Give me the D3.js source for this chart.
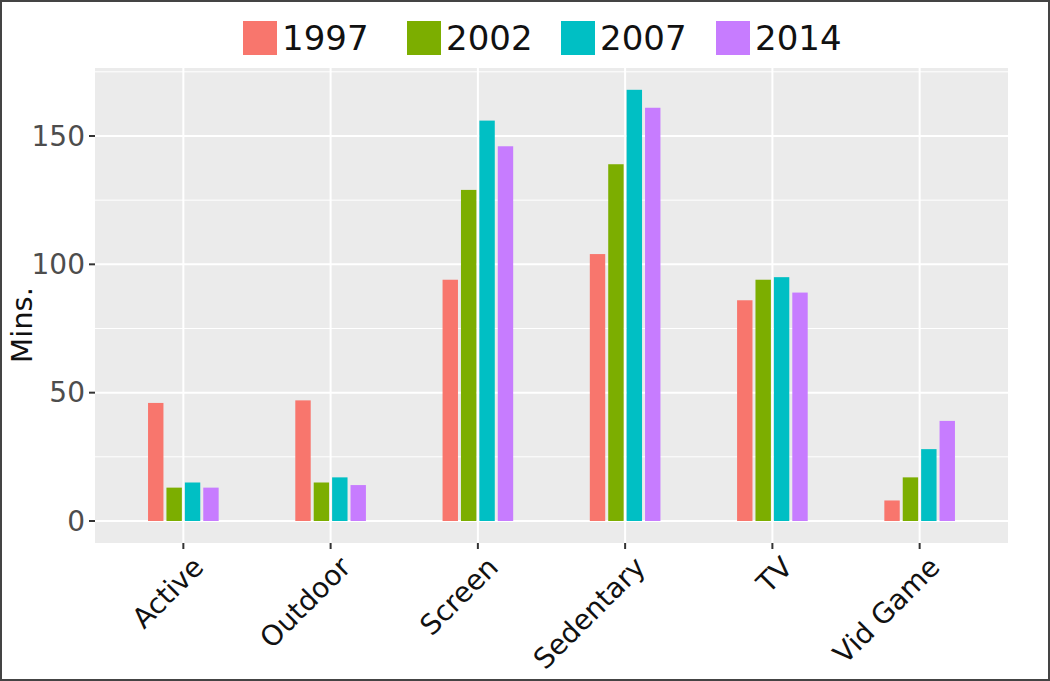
<!DOCTYPE html>
<html><head><meta charset="utf-8">
<script src="https://cdn.jsdelivr.net/npm/d3@7"></script>
<style>body{margin:0;background:#fff}text{font-family:"DejaVu Sans",sans-serif}</style>
</head><body><svg id="c" width="1050" height="681"></svg>
<script>
const categories=["Active","Outdoor","Screen","Sedentary","TV","Vid Game"];
const years=["1997","2002","2007","2014"];
const colors=["#F8766D","#7CAE00","#00BFC4","#C77CFF"];
const v1997=[46,47,94,104,86,8];
const v2002=[13,15,129,139,94,17];
const v2007=[15,17,156,168,95,28];
const v2014=[13,14,146,161,89,39];
const yTicks=[0,50,100,150];
const series=[v1997,v2002,v2007,v2014];

const svg=d3.select("#c");
svg.append("rect").attr("x",1).attr("y",1).attr("width",1048).attr("height",679).attr("fill","#fff").attr("stroke","#444").attr("stroke-width",2);
const L=95,R=1008,T=68,B=543;
const y=d3.scaleLinear().domain([0,150]).range([521,136]);
const x=d3.scaleBand().domain(categories).range([L,R]).paddingOuter(0.1).paddingInner(0);
svg.append("rect").attr("x",L).attr("y",T).attr("width",R-L).attr("height",B-T).attr("fill","#EBEBEB");
const g=svg.append("g");
[25,75,125,175].forEach(t=>{if(y(t)>T)g.append("line").attr("x1",L).attr("x2",R).attr("y1",y(t)).attr("y2",y(t)).attr("stroke","#fff").attr("stroke-width",1);});
yTicks.forEach(t=>g.append("line").attr("x1",L).attr("x2",R).attr("y1",y(t)).attr("y2",y(t)).attr("stroke","#fff").attr("stroke-width",2));
categories.forEach(c=>g.append("line").attr("x1",x(c)+x.bandwidth()/2).attr("x2",x(c)+x.bandwidth()/2).attr("y1",T).attr("y2",B).attr("stroke","#fff").attr("stroke-width",2));
const groupW=x.bandwidth()*0.5;
const sub=d3.scaleBand().domain(years).range([0,groupW]);
series.forEach((s,i)=>{
  g.selectAll(null).data(s).enter().append("rect")
   .attr("x",(d,j)=>x(categories[j])+x.bandwidth()/2-groupW/2+sub(years[i])+1.5)
   .attr("width",sub.bandwidth()-3)
   .attr("y",d=>y(d)).attr("height",d=>y(0)-y(d)).attr("fill",colors[i]);
});
yTicks.forEach(t=>{
  svg.append("line").attr("x1",L-6).attr("x2",L).attr("y1",y(t)).attr("y2",y(t)).attr("stroke","#333").attr("stroke-width",2);
  svg.append("text").attr("x",L-10).attr("y",y(t)).attr("dy","0.35em").attr("text-anchor","end").attr("font-size",28).attr("fill","#4d4d4d").text(t);
});
categories.forEach(c=>{
  const cx=x(c)+x.bandwidth()/2;
  svg.append("line").attr("x1",cx).attr("x2",cx).attr("y1",B).attr("y2",B+6).attr("stroke","#333").attr("stroke-width",2);
  svg.append("text").attr("transform",`translate(${cx+8},${B+12}) rotate(-45)`).attr("text-anchor","end").attr("dy","0.7em").attr("font-size",28).attr("fill","#111").text(c);
});
svg.append("text").attr("transform","translate(32,325) rotate(-90)").attr("text-anchor","middle").attr("font-size",29).attr("fill","#111").text("Mins.");
const lx=[243,407,561,716];
years.forEach((yr,i)=>{
  svg.append("rect").attr("x",lx[i]).attr("y",21).attr("width",34).attr("height",34).attr("fill",colors[i]);
  svg.append("text").attr("x",lx[i]+39).attr("y",38).attr("dy","0.36em").attr("font-size",34).attr("fill","#111").text(yr);
});
</script></body></html>
